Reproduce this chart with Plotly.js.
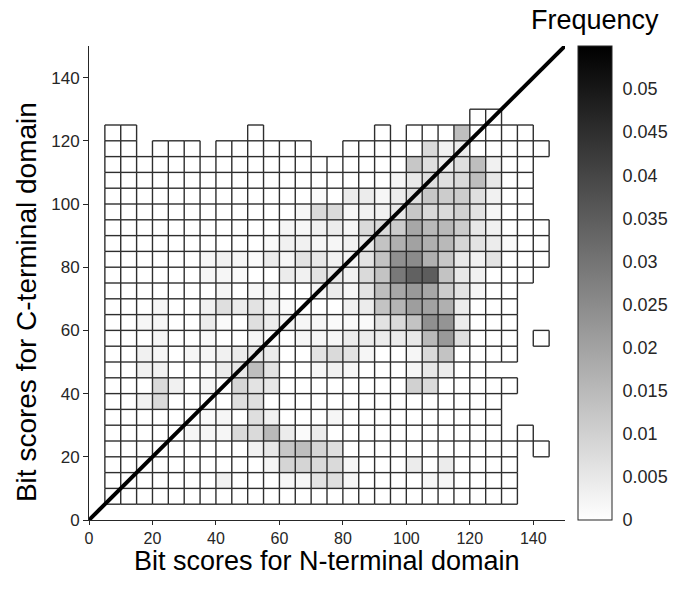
<!DOCTYPE html>
<html>
<head>
<meta charset="utf-8">
<script src="https://cdn.plot.ly/plotly-3.0.1.min.js"></script>
<style>html,body{margin:0;padding:0;background:#fff;}#chart{width:676px;height:590px;}</style>
</head>
<body>
<div id="chart"></div>
<script>
const _ = null;
// bin centres (bins are 5 units wide)
const xBins = [7.5,12.5,17.5,22.5,27.5,32.5,37.5,42.5,47.5,52.5,57.5,62.5,67.5,72.5,77.5,82.5,87.5,92.5,97.5,102.5,107.5,112.5,117.5,122.5,127.5,132.5,137.5,142.5];
const yBins = [127.5,122.5,117.5,112.5,107.5,102.5,97.5,92.5,87.5,82.5,77.5,72.5,67.5,62.5,57.5,52.5,47.5,42.5,37.5,32.5,27.5,22.5,17.5,12.5,7.5];
const binWidth = 5;
// frequency per bin, rows listed top (y 125-130) to bottom (y 5-10); null = no observations
const freq = [
 [_,_,_,_,_,_,_,_,_,_, _,_,_,_,_,_,_,_,_,_, _,_,_,0,0,_,_,_],
 [0,0,_,_,_,_,_,_,_,0, _,_,_,_,_,_,_,0,_,0, 0,0,.014,0,0,0,0,_],
 [0,0,_,0,0,0,_,0,0,0, 0,0,0,_,_,0,0,0,0,0, .008,.003,.004,0,0,0,0,0],
 [0,0,0,0,0,0,0,0,0,0, 0,0,0,0,0,0,0,0,0,.012, .007,.004,.007,.014,.003,0,0,_],
 [0,0,0,0,0,0,0,0,0,0, 0,0,0,0,0,0,0,0,.002,.005, .007,.007,.008,.014,.005,0,0,_],
 [0,0,0,0,0,0,0,0,0,0, 0,0,0,.001,0,.004,.004,.002,.004,.007, .012,.011,.011,.007,.003,0,0,_],
 [0,0,0,0,0,0,0,0,0,0, 0,0,.002,.008,.008,.002,.003,.003,.005,.012, .008,.008,.010,.006,.002,0,0,_],
 [0,0,0,0,0,0,0,0,0,0, 0,.002,.002,.003,.004,.002,.008,.008,.011,.019, .015,.015,.011,.005,.003,0,0,0],
 [0,0,0,0,0,0,0,0,0,0, .001,.003,.003,.002,.002,.003,.005,.013,.017,.020, .017,.015,.009,.006,.004,.001,0,0],
 [0,0,0,0,0,0,.002,.003,.002,.001, .004,.002,.006,.005,.003,.002,.006,.013,.024,.025, .017,.012,.005,.003,.006,0,0,0],
 [0,0,0,0,0,0,.002,.002,.001,0, 0,.004,.003,.006,.005,.003,.008,.013,.029,.034, .035,.013,.005,.003,0,0,0,_],
 [0,0,0,0,0,0,0,.002,0,.002, .002,0,0,.002,.004,.002,.006,.014,.019,.022, .019,.011,.006,.002,0,0,_,_],
 [0,0,0,.002,0,0,.003,.007,.004,.006, .003,.001,0,0,0,.003,.004,.013,.016,.021, .020,.017,.004,0,0,0,_,_],
 [0,0,.002,.002,0,0,.004,.001,0,.007, .004,.002,.002,.002,.001,.001,.001,.006,.008,.013, .024,.023,.004,0,0,0,_,_],
 [0,0,0,.002,0,0,.001,0,0,.002, 0,0,.002,.002,.002,.004,.004,.004,.004,.005, .015,.022,.007,0,0,0,_,0],
 [0,0,.003,.002,0,.002,.002,.003,.004,.005, .004,0,0,.006,.008,.006,.002,0,0,.002, .008,.013,0,0,0,0,_,_],
 [0,0,.003,.003,0,0,.001,.004,.005,.014, .006,0,0,.002,.003,.002,0,0,0,.002, .005,.004,0,0,_,_,_,_],
 [0,0,0,.008,.003,0,.002,0,.009,.006, .005,0,0,0,0,0,0,0,0,.010, .008,0,0,0,0,0,_,_],
 [0,0,.003,.008,0,0,0,0,.007,.007, 0,0,0,0,0,0,0,0,0,0, 0,0,0,0,0,_,_,_],
 [0,0,0,0,0,0,.001,.002,0,.007, .003,0,0,0,.002,0,0,0,0,0, 0,0,0,0,0,_,_,_],
 [0,0,0,0,0,.002,.002,.002,.008,.008, .015,.004,.001,.004,0,0,0,0,0,0, 0,0,0,0,0,_,0,_],
 [0,0,0,0,0,0,0,0,0,.003, .005,.012,.014,.009,.007,0,0,0,0,0, 0,0,0,0,0,0,_,0],
 [0,0,0,0,0,0,0,0,0,0, .002,.009,.009,.008,.008,.002,0,0,0,.004, 0,.004,0,0,0,0,_,_],
 [0,0,0,0,0,0,0,.003,0,0, 0,.002,.002,.006,.007,.002,0,0,0,0, .002,.002,0,0,0,0,_,_],
 [0,0,0,0,0,0,0,0,0,0, 0,0,0,0,0,0,0,0,0,0, 0,0,0,0,0,0,_,_]
];
const diagX = [0, 150];
const diagY = [0, 150];
const axisTicks = [0,20,40,60,80,100,120,140];
const cbTicks = [0,0.005,0.01,0.015,0.02,0.025,0.03,0.035,0.04,0.045,0.05];
const cbTickText = ['0','0.005','0.01','0.015','0.02','0.025','0.03','0.035','0.04','0.045','0.05'];

const FONT = '"Liberation Sans", Arial, Helvetica, sans-serif';
const INK = '#262626';

// outline of every populated bin, derived from the bin centres
const seen = new Set();
const gx = [], gy = [];
function seg(x0, y0, x1, y1) {
  const k = [x0, y0, x1, y1].join(',');
  if (seen.has(k)) return;
  seen.add(k);
  gx.push(x0, x1, null); gy.push(y0, y1, null);
}
const h = binWidth / 2;
freq.forEach((row, j) => row.forEach((v, i) => {
  if (v === null) return;
  const cx = xBins[i], cy = yBins[j];
  seg(cx - h, cy - h, cx + h, cy - h);
  seg(cx - h, cy + h, cx + h, cy + h);
  seg(cx - h, cy - h, cx - h, cy + h);
  seg(cx + h, cy - h, cx + h, cy + h);
}));

const traces = [
  { type:'heatmap', x:xBins, y:yBins, z:freq, zmin:0, zmax:0.055,
    colorscale:[[0,'#ffffff'],[1,'#000000']], hoverinfo:'skip',
    colorbar:{ x:1.0273, xanchor:'left', xpad:0, y:0, yanchor:'bottom', ypad:0,
      len:1, lenmode:'fraction', thickness:34, outlinewidth:1, outlinecolor:INK,
      tickvals:cbTicks, ticktext:cbTickText, ticks:'outside', ticklen:7, tickcolor:'rgba(0,0,0,0)',
      tickfont:{family:FONT, size:18, color:INK} } },
  { type:'scatter', mode:'lines', x:gx, y:gy, line:{color:'#2e2e2e', width:1.4}, hoverinfo:'skip', connectgaps:false },
  { type:'scatter', mode:'lines', x:diagX, y:diagY, line:{color:'#000', width:4}, hoverinfo:'skip' }
];

const layout = {
  width:676, height:590,
  margin:{l:89, r:111, t:46, b:70, autoexpand:false},
  paper_bgcolor:'#fff', plot_bgcolor:'#fff',
  showlegend:false,
  font:{family:FONT, color:INK},
  xaxis:{ range:[0,150], tickvals:axisTicks, ticks:'outside', ticklen:4, tickcolor:INK,
    showline:true, linecolor:INK, linewidth:1, showgrid:false, zeroline:false,
    tickfont:{size:16, color:INK} },
  yaxis:{ range:[0,150], tickvals:axisTicks, ticks:'outside', ticklen:5, tickcolor:INK,
    showline:true, linecolor:INK, linewidth:1, showgrid:false, zeroline:false,
    tickfont:{size:17, color:INK} },
  annotations:[
    { text:'Frequency', xref:'paper', yref:'paper', x:1.063, y:1.055,
      xanchor:'center', yanchor:'middle', showarrow:false, font:{size:27, color:'#000'} },
    { text:'Bit scores for N-terminal domain', xref:'paper', yref:'paper', x:0.5, y:-0.086,
      xanchor:'center', yanchor:'middle', showarrow:false, font:{size:27, color:'#000'} },
    { text:'Bit scores for C-terminal domain', xref:'paper', yref:'paper', x:-0.130, y:0.46,
      xanchor:'center', yanchor:'middle', textangle:-90, showarrow:false, font:{size:28, color:'#000'} }
  ]
};

Plotly.newPlot('chart', traces, layout, {displayModeBar:false, staticPlot:true});
</script>
</body>
</html>
